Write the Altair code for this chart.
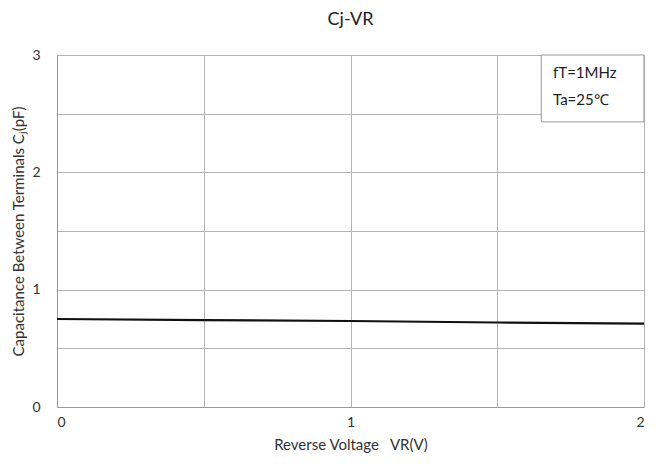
import altair as alt
import pandas as pd

# Data
vr = [0.0, 0.5, 1.0, 1.5, 2.0]
cj = [0.75, 0.74, 0.733, 0.72, 0.71]
notes = ["fT=1MHz", "Ta=25℃"]
note_y = [2.85, 2.62]

df = pd.DataFrame({"VR": vr, "Cj": cj})
notes_df = pd.DataFrame({"x": [1.69] * len(notes), "y": note_y, "t": notes})
box_df = pd.DataFrame({"x": [1.65], "x2": [2.0], "y": [2.43], "y2": [3.0]})

grid_vals = [0, 0.5, 1, 1.5, 2]
ygrid_vals = [0, 0.5, 1, 1.5, 2, 2.5, 3]
lbl = "datum.value % 1 == 0 ? format(datum.value, 'd') : ''"
FONT = "Lato"

xscale = alt.Scale(domain=[0, 2], nice=False)
yscale = alt.Scale(domain=[0, 3], nice=False)

xax = alt.Axis(values=grid_vals, labelExpr=lbl, ticks=False, grid=True,
               gridColor="#b4b4b4", domainColor="#999999", labelFont=FONT,
               labelFontSize=14, labelColor="#333333", labelPadding=8,
               title="Reverse Voltage\u00a0\u00a0\u00a0VR(V)", titleFont=FONT,
               titleFontSize=15, titleFontWeight="normal", titleColor="#333333",
               titlePadding=8)
yax = alt.Axis(values=ygrid_vals, labelExpr=lbl, ticks=False, grid=True,
               gridColor="#b4b4b4", domainColor="#999999", labelFont=FONT,
               labelFontSize=14, labelColor="#333333", labelPadding=17,
               title="Capacitance Between Terminals Cⱼ(pF)", titleFont=FONT,
               titleFontSize=15, titleFontWeight="normal", titleColor="#333333",
               titlePadding=5)

line = alt.Chart(df).mark_line(color="#111111", strokeWidth=2.2).encode(
    x=alt.X("VR:Q", scale=xscale, axis=xax),
    y=alt.Y("Cj:Q", scale=yscale, axis=yax),
)

box = alt.Chart(box_df).mark_rect(fill="white", stroke="#999999", strokeWidth=1).encode(
    x=alt.X("x:Q", scale=xscale), x2="x2:Q",
    y=alt.Y("y:Q", scale=yscale), y2="y2:Q",
)

txt = alt.Chart(notes_df).mark_text(align="left", baseline="middle", font=FONT,
                                    fontSize=15, color="#222222").encode(
    x=alt.X("x:Q", scale=xscale),
    y=alt.Y("y:Q", scale=yscale),
    text="t:N",
)

chart = alt.layer(line, box, txt).properties(
    width=587, height=352,
    title=alt.TitleParams("Cj-VR", font=FONT, fontSize=18, fontWeight="normal",
                          color="#222222", offset=19),
    autosize=alt.AutoSizeParams(type="none"),
    padding={"left": 49, "top": 47, "right": 4, "bottom": 52},
).configure_view(stroke="#999999", strokeWidth=1).configure(background="white")

chart.save("out.html", embed_options={"renderer": "svg", "actions": False})
